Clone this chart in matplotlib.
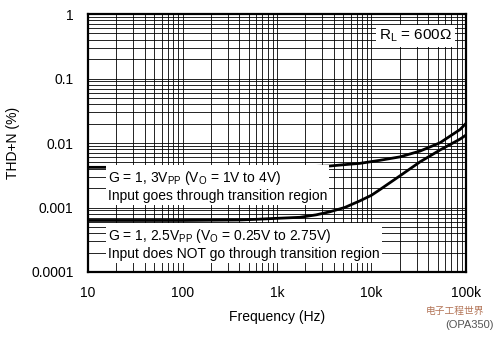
import matplotlib
matplotlib.use("Agg")
import matplotlib.pyplot as plt
from matplotlib.ticker import FixedLocator, FixedFormatter, LogLocator, NullFormatter

plt.rcParams['font.family'] = ['Liberation Sans', 'Noto Sans CJK SC', 'DejaVu Sans']
plt.rcParams['mathtext.fontset'] = 'custom'
plt.rcParams['mathtext.rm'] = 'Liberation Sans'

# curve data
freq_3vpp = [10, 100, 1000, 2000, 3600, 5000, 7550, 12300, 20000, 32600, 53100, 86500, 100000]
thd_3vpp = [0.0042, 0.0042, 0.0042, 0.0043, 0.0044, 0.0046, 0.00484, 0.0054, 0.0061,
            0.0075, 0.0101, 0.0162, 0.0202]
freq_2v5pp = [10, 100, 400, 660, 1000, 1750, 2600, 3640, 5200, 7550, 10000, 12300, 20000,
              32600, 53100, 86500, 100000]
thd_2v5pp = [0.00063, 0.00063, 0.00064, 0.00066, 0.00068, 0.000705, 0.00077, 0.00086, 0.001,
             0.00127, 0.00155, 0.0019, 0.0031, 0.0051, 0.0078, 0.0115, 0.0133]

x_ticks = [10, 100, 1000, 10000, 100000]
x_labels = ["10", "100", "1k", "10k", "100k"]
y_ticks = [0.0001, 0.001, 0.01, 0.1, 1]
y_labels = ["0.0001", "0.001", "0.01", "0.1", "1"]

label_3vpp = "G = 1, 3V$_\\mathregular{PP}$ (V$_\\mathregular{O}$ = 1V to 4V)\nInput goes through transition region"
label_2v5pp = ("G = 1, 2.5V$_\\mathregular{PP}$ (V$_\\mathregular{O}$ = 0.25V to 2.75V)\n"
               "Input does NOT go through transition region")

fig = plt.figure(figsize=(5.0, 3.43), dpi=100)
ax = fig.add_axes([0.176, 0.207, 0.756, 0.752])

ax.plot(freq_3vpp, thd_3vpp, color='black', lw=2.0, solid_capstyle='butt', zorder=3)
ax.plot(freq_2v5pp, thd_2v5pp, color='black', lw=2.0, solid_capstyle='butt', zorder=3)

ax.set_xscale('log')
ax.set_yscale('log')
ax.set_xlim(10, 100000)
ax.set_ylim(0.0001, 1)

ax.xaxis.set_major_locator(FixedLocator(x_ticks))
ax.xaxis.set_major_formatter(FixedFormatter(x_labels))
ax.yaxis.set_major_locator(FixedLocator(y_ticks))
ax.yaxis.set_major_formatter(FixedFormatter(y_labels))
ax.xaxis.set_minor_locator(LogLocator(base=10, subs=range(2, 10)))
ax.yaxis.set_minor_locator(LogLocator(base=10, subs=range(2, 10)))
ax.xaxis.set_minor_formatter(NullFormatter())
ax.yaxis.set_minor_formatter(NullFormatter())

ax.grid(True, which='both', color='black', lw=0.6)
ax.tick_params(which='both', length=0, labelsize=10)
ax.tick_params(axis='x', pad=10)
ax.tick_params(axis='y', pad=10.5)
for sp in ax.spines.values():
    sp.set_linewidth(1.6)

ax.set_xlabel("Frequency (Hz)", fontsize=10, labelpad=7)
ax.set_ylabel("THD+N (%)", fontsize=10, labelpad=8)

box = dict(facecolor='white', edgecolor='none', pad=1.5)
ax.text(0.053, 0.333, label_3vpp, transform=ax.transAxes, fontsize=10, va='center',
        ha='left', linespacing=1.2, bbox=box, zorder=4)
ax.text(0.053, 0.109, label_2v5pp, transform=ax.transAxes, fontsize=10, va='center',
        ha='left', linespacing=1.2, bbox=box, zorder=4)
ax.text(0.866, 0.915, "R$_\\mathregular{L}$ = 600Ω", transform=ax.transAxes, fontsize=11,
        va='center', ha='center', bbox=dict(facecolor='white', edgecolor='none', pad=2.0),
        zorder=4)

# watermark corner
fig.text(0.91, 1 - 311 / 343, "电子工程世界", fontsize=7, color='#a0522d', ha='center',
         va='center', alpha=0.8)
fig.text(0.94, 1 - 325 / 343, "(OPA350)", fontsize=8, color='#555555', ha='center',
         va='center')

fig.savefig("out.png", dpi=100)
